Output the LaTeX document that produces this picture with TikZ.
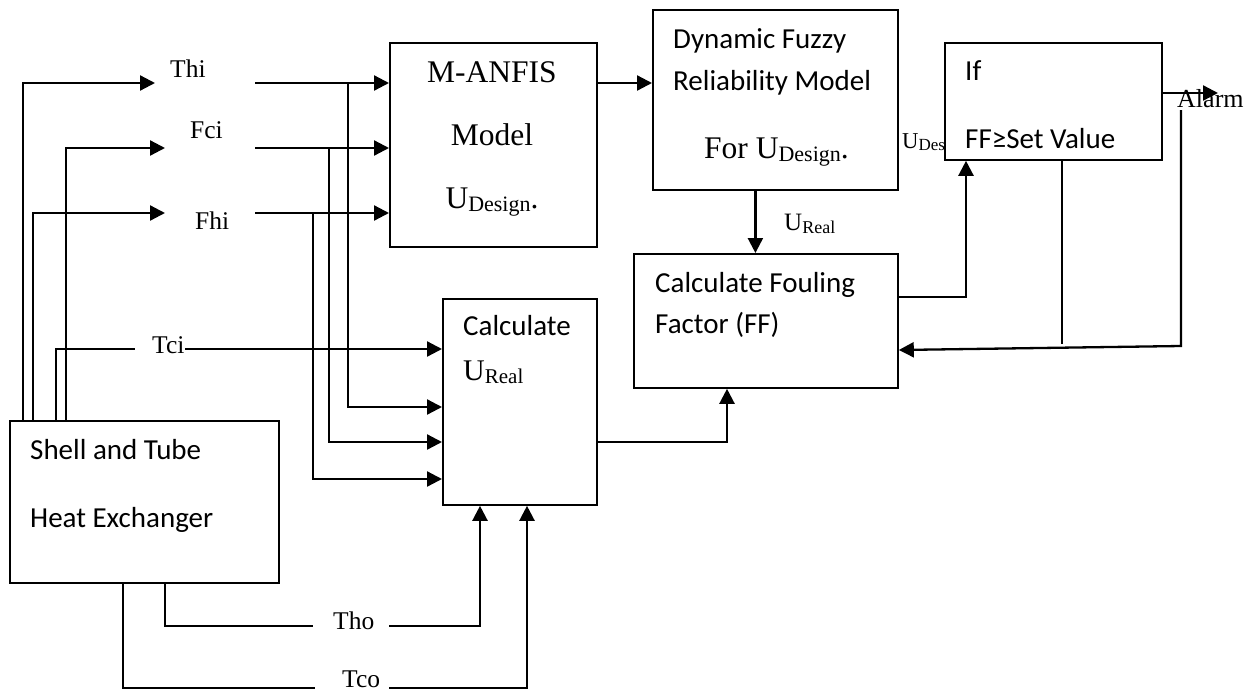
\documentclass[tikz,border=0pt]{standalone}
\usepackage{fontspec}
\setmainfont{Liberation Serif}
\newfontfamily\calibri{Carlito}
\usepackage{tikz}
\usetikzlibrary{arrows.meta,positioning}

\newcommand{\usub}[2]{U\raisebox{-0.12em}{\fontsize{#1}{#1}\selectfont #2}}

\begin{document}
\begin{tikzpicture}[
  x=1pt, y=-1pt,
  box/.style={draw, line width=1.8pt, fill=white, anchor=north west, inner sep=0pt},
  boxtext/.style={anchor=base west, inner sep=0pt, font=\calibri\fontsize{29}{32}\selectfont},
  sig/.style={anchor=base west, inner sep=0pt, font=\fontsize{25.5}{28}\selectfont},
  big/.style={anchor=base, inner sep=0pt, font=\fontsize{31.5}{34}\selectfont},
  arrow/.style={-{Triangle[length=15pt,width=15pt]}, line width=2.3pt},
  wire/.style={line width=1.8pt}
]
\useasboundingbox (0,0) rectangle (1250,691);

% blocks
\node[box, minimum width=269pt, minimum height=162pt] (shell) at (9,420) {};
\node[box, minimum width=207pt, minimum height=204pt] (manfis) at (389,42) {};
\node[box, minimum width=245pt, minimum height=180pt] (dyn) at (652,9) {};
\node[box, minimum width=154pt, minimum height=206pt] (calc) at (442,298) {};
\node[box, minimum width=264pt, minimum height=134pt] (ff) at (633,253) {};
\node[anchor=base west, inner sep=0pt, font=\fontsize{22.7}{26}\selectfont] (udes) at (902,148) {\usub{17}{Design}};
\node[box, minimum width=217pt, minimum height=117pt] (ifbox) at (944,42) {};

% texts in the blocks
\node[boxtext] (shellA) at (30,459) {Shell and Tube};
\node[boxtext] (shellB) at (30,527) {Heat Exchanger};
\node[big] (manA) at (492,82) {M-ANFIS};
\node[big] (manB) at (492,145) {Model};
\node[big] (manC) at (492,208) {\usub{22}{Design}.};
\node[anchor=base west, inner sep=0pt, font=\fontsize{31.5}{34}\selectfont] (dynC) at (704,158) {For \usub{22}{Design}.};
\node[boxtext] (dynA) at (673,48) {Dynamic Fuzzy};
\node[boxtext] (dynB) at (673,90) {Reliability Model};
\node[boxtext] (calcA) at (463,335) {Calculate};
\node[anchor=base west, inner sep=0pt, font=\fontsize{30}{32}\selectfont] (calcB) at (463,380) {\usub{21}{Real}};
\node[boxtext] (ffA) at (655,292) {Calculate Fouling};
\node[boxtext] (ffB) at (655,333) {Factor (FF)};
\node[boxtext] (ifA) at (965,80) {If};
\node[boxtext] (ifB) at (965,148) {FF≥Set Value};

% signal names
\node[sig] (thi) at (170,77) {Thi};
\node[sig] (fci) at (190,138) {Fci};
\node[sig] (fhi) at (195,229) {Fhi};
\node[sig] (tci) at (152,353) {Tci};
\node[sig] (tho) at (333,629) {Tho};
\node[sig] (tco) at (342,687) {Tco};
\node[sig, font=\fontsize{26}{28}\selectfont] (alarm) at (1177,107) {Alarm};
\node[anchor=base west, inner sep=0pt, font=\fontsize{25}{28}\selectfont] (ureal) at (784,230) {\usub{18}{Real}};

% end points of the lines
\coordinate (thiL) at (155,83);
\coordinate (fciL) at (165,148);
\coordinate (fhiL) at (165,213);
\coordinate (tciL) at (135,349);
\coordinate (tciR) at (185,349);
\coordinate (thiR) at (255,83);
\coordinate (fciR) at (255,148);
\coordinate (fhiR) at (255,213);
\coordinate (brA) at (348,83);
\coordinate (brB) at (329,148);
\coordinate (brC) at (313,213);
\coordinate (thoL) at (313,626);
\coordinate (thoR) at (389,626);
\coordinate (tcoL) at (315,688);
\coordinate (tcoR) at (389,688);
\coordinate (alarmTip) at (1218,93);
\coordinate (fbTop) at (1181,110);
\coordinate (fbCorner) at (1181,346);
\coordinate (ffStub) at (1062,344);

% measurements out of the exchanger
\draw[arrow] ([xshift=14pt]shell.north west) |- (thiL);
\draw[arrow] ([xshift=57pt]shell.north west) |- (fciL);
\draw[arrow] ([xshift=24pt]shell.north west) |- (fhiL);
\draw[wire] ([xshift=47pt]shell.north west) |- (tciL);
\draw[arrow] (tciR) -- (tciR -| calc.west);
\draw[wire] ([xshift=156pt]shell.south west) |- (thoL);
\draw[arrow] (thoR) -| ([xshift=38pt]calc.south west);
\draw[wire] ([xshift=114pt]shell.south west) |- (tcoL);
\draw[arrow] (tcoR) -| ([xshift=85pt]calc.south west);

% into M-ANFIS and Calculate
\draw[arrow] (thiR) -- (thiR -| manfis.west);
\draw[arrow] (fciR) -- (fciR -| manfis.west);
\draw[arrow] (fhiR) -- (fhiR -| manfis.west);
\draw[arrow] (brA) |- ([yshift=-109pt]calc.north west);
\draw[arrow] (brB) |- ([yshift=-144pt]calc.north west);
\draw[arrow] (brC) |- ([yshift=-181pt]calc.north west);

% between the blocks
\draw[arrow] ([yshift=-41pt]manfis.north east) -- ([yshift=-41pt]manfis.north east -| dyn.west);
\draw[arrow] ([xshift=-20pt]dyn.south) -- ([xshift=-20pt]dyn.south |- ff.north);
\draw[arrow] ([yshift=-144pt]calc.north east) -| ([xshift=94pt]ff.south west);
\draw[arrow] ([yshift=-44pt]ff.north east) -| ([xshift=22pt]ifbox.south west);
\draw[wire] (ffStub |- ifbox.south) -- (ffStub);
\draw[arrow] ([yshift=-51pt]ifbox.north east) -- (alarmTip);
\draw[arrow] (fbTop) -- (fbCorner) -- ([yshift=-97pt]ff.north east);
\end{tikzpicture}
\end{document}
